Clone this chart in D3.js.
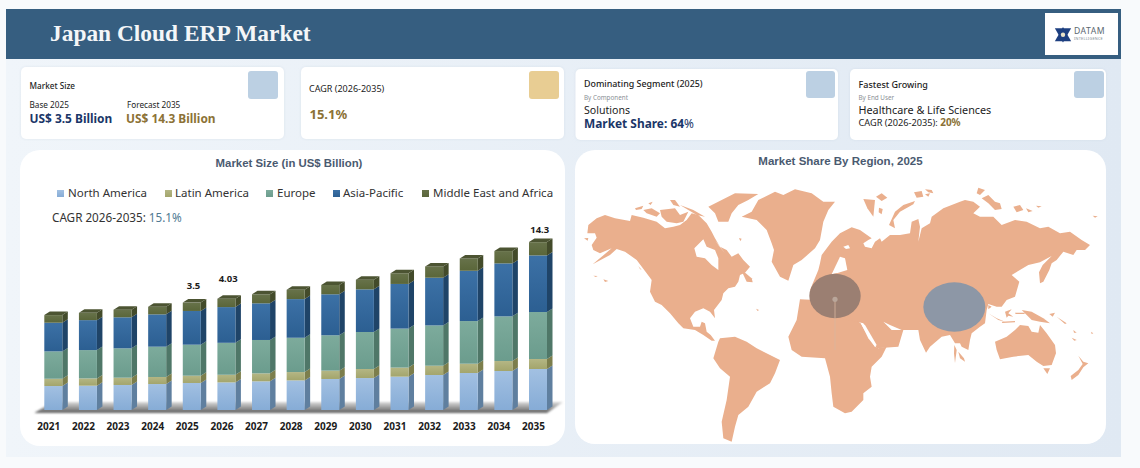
<!doctype html>
<html lang="en">
<head>
<meta charset="utf-8">
<title>Japan Cloud ERP Market</title>
<style>
html, body, svg { margin: 0; padding: 0; border: 0; display: block; background: #f8fafc; }
text { font-family: "Noto Sans", sans-serif; }
</style>
</head>
<body>
<svg id="chart" width="1140" height="468"></svg>
<script src="https://d3js.org/d3.v7.min.js"></script>
<script>
// bar data: drawn heights, scaled so the tallest bar is 14.3
var years = ["2021","2022","2023","2024","2025","2026","2027","2028","2029","2030","2031","2032","2033","2034","2035"];
var northAmerica = [2.04,2.07,2.13,2.21,2.30,2.35,2.44,2.52,2.64,2.72,2.84,2.98,3.15,3.32,3.49];
var latinAmerica = [0.62,0.62,0.62,0.60,0.62,0.65,0.68,0.71,0.71,0.77,0.77,0.79,0.79,0.85,0.85];
var europe = [2.33,2.41,2.50,2.58,2.64,2.72,2.84,2.92,3.01,3.15,3.32,3.43,3.63,3.80,4.00];
var asiaPacific = [2.44,2.55,2.64,2.75,2.87,3.04,3.12,3.29,3.49,3.63,3.80,4.06,4.28,4.51,4.82];
var middleEastAfrica = [0.65,0.62,0.65,0.65,0.71,0.71,0.77,0.79,0.79,0.82,0.91,0.96,1.05,1.05,1.13];
var seriesNames = ["North America","Latin America","Europe","Asia-Pacific","Middle East and Africa"];
var seriesFront = [["#a2c0e2","#86acd6"],["#b4b684","#a3a56c"],["#7dab9c","#6b9c8d"],["#3c71a6","#2c5f92"],["#67724a","#5a6639"]];
var seriesSide = ["#5f7f9f","#7c7e4c","#4f7768","#1f4468","#434b2a"];
var seriesTop = ["#7f9dbd","#8d8f5d","#5f8878","#2a5078","#4c5432"];
var valueLabelYears = ["2025","2026","2035"];
var valueLabels = ["3.5","4.03","14.3"];

// map outlines, in map grid units
var northAmericaLand = [[40,225],[65,205],[90,195],[120,205],[165,213],[170,195],[205,203],[245,215],[270,235],[295,230],[315,225],[335,210],[350,190],[370,195],[395,220],[410,245],[420,265],[435,290],[455,300],[470,320],[490,310],[505,330],[525,350],[510,368],[495,375],[490,395],[480,410],[460,415],[445,430],[440,450],[417,480],[420,505],[405,485],[385,475],[360,485],[345,505],[355,530],[375,530],[380,515],[390,520],[395,545],[407,555],[420,572],[410,572],[385,555],[360,540],[325,535],[310,520],[285,490],[260,465],[240,455],[225,425],[230,390],[215,370],[185,330],[150,305],[125,297],[105,315],[53,343],[110,295],[75,310],[55,300],[50,285],[65,263],[60,250],[37,250]];
var southAmericaLand = [[430,575],[435,565],[480,560],[515,575],[545,595],[585,615],[615,630],[600,670],[585,700],[545,725],[520,770],[490,795],[480,830],[470,875],[445,865],[440,815],[455,750],[465,680],[435,655],[415,625]];
var greenlandLand = [[500,200],[530,185],[550,150],[600,125],[625,135],[660,118],[710,130],[745,155],[780,155],[760,180],[745,215],[735,270],[720,295],[680,330],[655,345],[640,392],[615,380],[590,335],[597,300],[590,280],[575,240],[545,210]];
var africaLand = [[675,448],[720,450],[800,470],[835,505],[857,520],[880,560],[900,590],[910,595],[935,590],[920,620],[890,650],[885,680],[890,710],[865,730],[865,750],[830,785],[810,790],[775,770],[770,730],[765,680],[750,625],[680,620],[650,600],[640,560],[665,510]];
var eurasiaLand = [[730,360],[735,340],[740,315],[770,275],[795,250],[830,232],[855,240],[890,265],[880,270],[865,280],[870,290],[890,295],[900,275],[915,265],[920,275],[945,255],[975,255],[1005,250],[1010,215],[1030,207],[1035,230],[1030,275],[1040,235],[1065,220],[1070,200],[1105,175],[1155,155],[1170,150],[1195,155],[1215,170],[1195,190],[1215,200],[1255,200],[1280,225],[1320,210],[1355,215],[1395,235],[1420,230],[1455,250],[1485,245],[1520,270],[1545,285],[1530,300],[1505,300],[1495,315],[1465,305],[1445,330],[1430,340],[1423,360],[1405,395],[1395,400],[1392,367],[1403,345],[1430,318],[1395,337],[1360,345],[1310,375],[1333,395],[1320,440],[1295,450],[1280,470],[1265,470],[1240,462],[1235,480],[1230,520],[1215,530],[1190,550],[1185,570],[1180,600],[1160,590],[1155,580],[1140,580],[1125,555],[1100,560],[1065,590],[1053,608],[1035,570],[1030,540],[985,540],[970,590],[905,595],[865,520],[795,505],[705,420]];
var australiaLand = [[1260,575],[1295,560],[1320,540],[1335,525],[1360,528],[1370,545],[1390,548],[1395,525],[1415,550],[1440,585],[1443,610],[1430,645],[1405,648],[1385,635],[1360,615],[1315,620],[1275,628],[1265,600]];
var islands = [
  [[400,170],[440,150],[480,130],[550,132],[520,150],[490,165],[470,190],[460,215],[430,215],[420,190]],
  [[180,175],[205,167],[200,177],[183,180]],[[205,180],[230,175],[255,190],[245,200],[215,190]],
  [[255,180],[300,175],[315,195],[340,185],[325,215],[305,220],[275,215],[260,200]],
  [[285,150],[300,150],[315,170],[295,165]],[[315,165],[355,180],[390,200],[365,195]],[[220,160],[233,155],[227,165]],
  [[497,357],[515,372],[530,385],[533,397],[515,395]],
  [[27,265],[40,264],[38,272]],[[55,377],[68,378],[62,381]],[[85,388],[100,393],[90,396]],[[190,348],[200,360],[195,357]],[[492,264],[500,266],[496,274]],[[543,476],[552,480],[548,483]],
  [[865,147],[900,150],[895,200],[877,175]],[[903,140],[920,130],[937,143],[920,153]],[[912,173],[923,177],[920,193],[911,187]],
  [[1020,153],[985,165],[960,185],[942,225],[960,235],[955,210],[975,185],[1015,163]],
  [[1017,127],[1040,123],[1045,140],[1025,143]],[[1050,133],[1065,130],[1060,140]],[[1050,118],[1070,120],[1075,130],[1060,127]],
  [[1210,113],[1230,120],[1215,135],[1205,130]],[[1220,145],[1240,135],[1260,155],[1275,160],[1280,177],[1260,180],[1240,160]],
  [[1315,170],[1335,165],[1345,180],[1325,187]],[[1353,175],[1373,183],[1360,187]],[[1383,167],[1400,169],[1390,173]],[[1553,197],[1568,199],[1560,203]],
  [[1290,485],[1310,478],[1300,490],[1315,500],[1300,497],[1295,503]],
  [[1340,480],[1370,485],[1405,505],[1425,520],[1395,515],[1370,510],[1355,495]],
  [[1240,490],[1265,505],[1290,515],[1270,510]],[[1280,515],[1320,513],[1320,517],[1282,519]],
  [[1320,488],[1350,488],[1348,492],[1322,492]],[[1423,492],[1440,488],[1433,500]],[[1445,500],[1475,520],[1470,522]],
  [[1495,540],[1505,548],[1497,548]],[[1490,563],[1505,570],[1498,572]],[[1548,545],[1555,550],[1550,552]],[[1240,465],[1250,470],[1240,478]],
  [[1138,585],[1145,600],[1140,640],[1137,610]],[[1150,605],[1167,625],[1170,635],[1155,625]],
  [[1405,655],[1425,655],[1417,672]],
  [[1510,617],[1525,635],[1540,640],[1525,652],[1510,675],[1490,690],[1487,678],[1510,660],[1523,642]]
];
var seas = [
  [[358,295],[385,268],[395,290],[420,300],[430,325],[430,360],[410,345],[390,325],[365,320]],
  [[420,270],[450,310],[430,285]],
  [[265,475],[293,510],[283,505]],
  [[857,518],[870,525],[905,585],[900,590],[880,565]],
  [[925,515],[945,525],[980,540],[950,540]],
  [[795,320],[810,325],[817,360],[795,367],[770,373]],[[805,290],[820,285],[825,295],[813,297]]
];
var bubbleNames = ["Europe","Asia-Pacific"];
var bubbleGridX = [780,1138];
var bubbleGridY = [438,471];

var svg = d3.select("#chart");
var defs = svg.append("defs");

function vGrad(id, c0, c1, horizontal) {
  var g = defs.append("linearGradient").attr("id", id).attr("x1", 0).attr("y1", 0)
    .attr("x2", horizontal ? 1 : 0).attr("y2", horizontal ? 0 : 1);
  g.append("stop").attr("offset", "0%").attr("stop-color", c0);
  g.append("stop").attr("offset", "100%").attr("stop-color", c1);
}
vGrad("dash", "#f0f5fa", "#e0e9f3", true);
vGrad("floor", "#d9d9d9", "#5d5d5d");
seriesFront.forEach(function(c, i) { vGrad("front" + i, c[0], c[1]); });
defs.append("filter").attr("id", "soft").append("feGaussianBlur").attr("stdDeviation", 0.9);
defs.append("filter").attr("id", "mapSoft").attr("filterUnits", "userSpaceOnUse")
  .attr("x", 575).attr("y", 150).attr("width", 540).attr("height", 300)
  .append("feGaussianBlur").attr("stdDeviation", 0.45);
var cardShadow = defs.append("filter").attr("id", "cardShadow").attr("x", "-5%").attr("y", "-5%").attr("width", "110%").attr("height", "110%");
cardShadow.append("feDropShadow").attr("dx", 0).attr("dy", 0).attr("stdDeviation", 1.5).attr("flood-color", "#b9c7d6").attr("flood-opacity", 0.35);

// page frame
svg.append("rect").attr("x", 6).attr("y", 59).attr("width", 1115).attr("height", 398).attr("fill", "url(#dash)");
svg.append("rect").attr("x", 6).attr("y", 9).attr("width", 1115).attr("height", 50).attr("fill", "#365e80");
svg.append("text").attr("x", 50).attr("y", 41).attr("fill", "#f4f6f8")
  .style("font-family", "'Liberation Serif', serif").style("font-weight", 700).style("font-size", "23.4px")
  .text("Japan Cloud ERP Market");

// logo
svg.append("rect").attr("x", 1045).attr("y", 13).attr("width", 73).attr("height", 42).attr("fill", "#fff");
var star = d3.symbol(d3.symbolTriangle, 115);
svg.append("path").attr("d", star()).attr("transform", "translate(1063,36.5)").attr("fill", "#1d3f80");
svg.append("path").attr("d", star()).attr("transform", "translate(1063,33) rotate(180)").attr("fill", "#1d3f80");
svg.append("circle").attr("cx", 1063).attr("cy", 34.7).attr("r", 2.2).attr("fill", "#e8e2c8");
svg.append("text").attr("x", 1074).attr("y", 34).attr("fill", "#5b6770").style("font-size", "8.6px").style("letter-spacing", "0.5px").text("DATAM");
svg.append("text").attr("x", 1074).attr("y", 39.5).attr("fill", "#7b8790").style("font-size", "3.8px").style("letter-spacing", "0.25px").text("INTELLIGENCE");

// kpi cards
var cards = [
  {x: 21, y: 67, w: 263, h: 72, ix: 248, iy: 71, iw: 30, ih: 28, c: "#bcd0e3"},
  {x: 301, y: 67, w: 263, h: 72, ix: 529, iy: 71, iw: 30, ih: 28, c: "#e8cd93"},
  {x: 575.5, y: 69, w: 262.5, h: 71, ix: 806, iy: 71, iw: 29, ih: 27, c: "#bcd0e3"},
  {x: 850, y: 69, w: 256, h: 71, ix: 1074, iy: 71, iw: 30, ih: 27, c: "#bcd0e3"}
];
cards.forEach(function(c) {
  svg.append("rect").attr("x", c.x).attr("y", c.y).attr("width", c.w).attr("height", c.h).attr("rx", 5).attr("fill", "#fff").attr("filter", "url(#cardShadow)");
  svg.append("rect").attr("x", c.ix).attr("y", c.iy).attr("width", c.iw).attr("height", c.ih).attr("rx", 3).attr("fill", c.c);
});
function label(x, y, size, weight, color, parts) {
  var t = svg.append("text").attr("x", x).attr("y", y).attr("fill", color).style("font-size", size + "px").style("font-weight", weight);
  if (typeof parts === "string") t.text(parts);
  else parts.forEach(function(p) {
    t.append("tspan").attr("fill", p.c || color).style("font-weight", p.w || weight).style("font-size", (p.s || size) + "px").text(p.t);
  });
  return t;
}
var navy = "#1a3668", gold = "#8c7236";
label(29.5, 89, 8.2, 500, "#1c1c1c", "Market Size");
label(29.5, 108, 8.2, 400, "#1c1c1c", "Base 2025");
label(127, 108, 8.2, 400, "#1c1c1c", "Forecast 2035");
label(29.5, 122.5, 11.9, 700, navy, "US$ 3.5 Billion");
label(126, 122.5, 11.9, 700, gold, "US$ 14.3 Billion");
label(309, 92, 9, 400, "#1c1c1c", "CAGR (2026-2035)");
label(309.5, 119, 13, 700, gold, "15.1%");
label(584, 87, 8.9, 500, "#1c1c1c", "Dominating Segment (2025)");
label(584, 100, 6.3, 400, "#8a8f96", "By Component");
label(584, 114, 10.6, 400, "#1c1c1c", "Solutions");
label(584, 128, 11.9, 700, navy, [{t: "Market Share: 64"}, {t: "%", w: 400}]);
label(858.5, 88, 9, 500, "#1c1c1c", "Fastest Growing");
label(858.5, 100, 6.3, 400, "#8a8f96", "By End User");
label(858.5, 113.5, 10.8, 400, "#1c1c1c", "Healthcare & Life Sciences");
label(858.5, 126, 9.2, 400, "#1c1c1c", [{t: "CAGR (2026-2035): "}, {t: "20%", c: gold, w: 700, s: 10}]);

// panels
svg.append("rect").attr("x", 20).attr("y", 150).attr("width", 545).attr("height", 296).attr("rx", 20).attr("fill", "#fff");
svg.append("rect").attr("x", 575).attr("y", 150).attr("width", 531).attr("height", 294).attr("rx", 20).attr("fill", "#fff");
svg.append("text").attr("x", 289).attr("y", 167).attr("text-anchor", "middle").attr("fill", "#4a5a70")
  .style("font-family", "'Liberation Sans', sans-serif").style("font-weight", 700).style("font-size", "11.4px").text("Market Size (in US$ Billion)");
svg.append("text").attr("x", 840.5).attr("y", 165).attr("text-anchor", "middle").attr("fill", "#4a5a70")
  .style("font-family", "'Liberation Sans', sans-serif").style("font-weight", 700).style("font-size", "11.5px").text("Market Share By Region, 2025");

// legend
var legendX = [57, 165, 266, 333, 422];
var legendGap = [11, 10, 11, 10, 11];
seriesNames.forEach(function(name, i) {
  svg.append("rect").attr("x", legendX[i]).attr("y", 190).attr("width", 7).attr("height", 7).attr("fill", "url(#front" + i + ")");
  svg.append("text").attr("x", legendX[i] + legendGap[i]).attr("y", 197).attr("fill", "#333").style("font-size", "11.5px").text(name);
});
label(52, 222, 11.7, 400, "#333", [{t: "CAGR 2026-2035: "}, {t: "15.1%", c: "#4f7a92"}]);

// bars
var seriesValues = [northAmerica, latinAmerica, europe, asiaPacific, middleEastAfrica];
var table = years.map(function(y, i) {
  var row = {year: y};
  seriesNames.forEach(function(n, k) { row[n] = seriesValues[k][i]; });
  return row;
});
var stacked = d3.stack().keys(seriesNames)(table);
var x = d3.scaleBand().domain(years).range([44.3, 547]).paddingInner(0.48).paddingOuter(0);
var y = d3.scaleLinear().domain([0, 14.3]).range([410, 242]);
var depthX = 5.5, depthY = 3.5;

svg.append("path")
  .attr("d", d3.line()([[x("2021") - 10, 413], [547, 413], [563, 402], [x("2021") + 8, 402]]) + "Z")
  .attr("fill", "url(#floor)").attr("filter", "url(#soft)");

stacked.forEach(function(layer, k) {
  var g = svg.append("g");
  g.selectAll(".side").data(layer).join("path")
    .attr("fill", seriesSide[k])
    .attr("d", function(d) {
      var r = x(d.data.year) + x.bandwidth();
      return d3.line()([[r, y(d[0])], [r + depthX, y(d[0]) - depthY], [r + depthX, y(d[1]) - depthY], [r, y(d[1])]]) + "Z";
    });
  g.selectAll(".front").data(layer).join("rect")
    .attr("x", function(d) { return x(d.data.year); })
    .attr("y", function(d) { return y(d[1]); })
    .attr("width", x.bandwidth())
    .attr("height", function(d) { return y(d[0]) - y(d[1]); })
    .attr("fill", "url(#front" + k + ")");
  if (k === stacked.length - 1) {
    g.selectAll(".top").data(layer).join("path")
      .attr("fill", seriesTop[k])
      .attr("d", function(d) {
        var l = x(d.data.year), t = y(d[1]);
        return d3.line()([[l, t], [l + depthX, t - depthY], [l + x.bandwidth() + depthX, t - depthY], [l + x.bandwidth(), t]]) + "Z";
      });
  }
});

// year axis
var axis = svg.append("g").attr("transform", "translate(-4.5,418)").call(d3.axisBottom(x).tickSize(0).tickPadding(5));
axis.select(".domain").remove();
axis.selectAll("text").attr("fill", "#1c1c1c").style("font-size", "10px").style("font-weight", 700).style("font-family", "'Noto Sans', sans-serif");

// value labels above selected bars
var labelGap = {"2025": 10, "2026": 13, "2035": 6};
valueLabelYears.forEach(function(yr, i) {
  var total = d3.sum(seriesValues, function(s) { return s[years.indexOf(yr)]; });
  svg.append("text")
    .attr("x", x(yr) + x.bandwidth() / 2 + depthX / 2 - 1)
    .attr("y", y(total) - depthY - labelGap[yr])
    .attr("text-anchor", "middle").attr("fill", "#1c1c1c")
    .style("font-size", "9.5px").style("font-weight", 700).text(valueLabels[i]);
});

// map
var mapX = d3.scaleLinear().domain([0, 1600]).range([575, 575 + 1600 / 3]);
var mapY = d3.scaleLinear().domain([0, 900]).range([150, 450]);
var outline = d3.line().x(function(d) { return mapX(d[0]); }).y(function(d) { return mapY(d[1]); }).curve(d3.curveLinearClosed);
var lands = [northAmericaLand, southAmericaLand, greenlandLand, africaLand, eurasiaLand, australiaLand].concat(islands);
var mapG = svg.append("g").attr("filter", "url(#mapSoft)");
mapG.append("g").selectAll("path").data(lands).join("path").attr("d", outline).attr("fill", "#eaaf8d");
mapG.append("g").selectAll("path").data(seas).join("path").attr("d", outline).attr("fill", "#fff");

var bubbleRx = d3.scaleOrdinal().domain(bubbleNames).range([25.7, 31]);
var bubbleRy = d3.scaleOrdinal().domain(bubbleNames).range([22.3, 24.7]);
var bubbleColor = d3.scaleOrdinal().domain(bubbleNames).range(["#9b7f72", "#8d97a6"]);
bubbleNames.forEach(function(n, i) {
  svg.append("ellipse").attr("cx", mapX(bubbleGridX[i])).attr("cy", mapY(bubbleGridY[i]))
    .attr("rx", bubbleRx(n)).attr("ry", bubbleRy(n)).attr("fill", bubbleColor(n));
});
svg.append("line").attr("x1", mapX(780)).attr("x2", mapX(780)).attr("y1", mapY(448)).attr("y2", mapY(600))
  .attr("stroke", "#d9b6a0").attr("stroke-width", 0.8);
svg.append("circle").attr("cx", mapX(780)).attr("cy", mapY(448)).attr("r", 2.6).attr("fill", "#b9a69a");
</script>
</body>
</html>
